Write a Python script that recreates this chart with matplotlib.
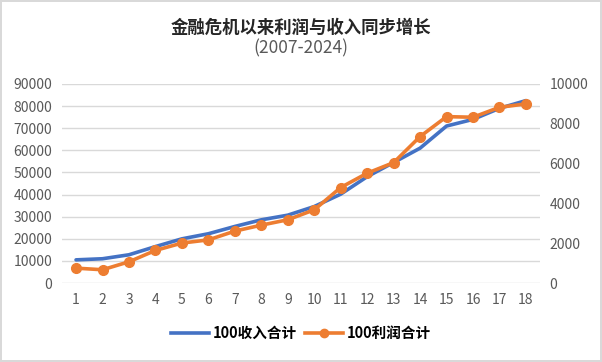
#
# Revenue and profit growth since the financial crisis
#

import matplotlib.pyplot as plt
from matplotlib.lines import Line2D

plt.rcParams['font.family'] = ['Noto Sans CJK SC', 'DejaVu Sans']

# Data
years = list(range(1, 19))
revenue = [10500, 11000, 12800, 16500, 20000, 22300, 25600, 28600, 30700,
           34600, 40200, 48100, 54500, 61000, 71000, 74000, 79000, 82500]
profit = [750, 670, 1070, 1640, 2010, 2170, 2610, 2910, 3180,
          3680, 4800, 5520, 6050, 7360, 8360, 8330, 8830, 9000]

title = "金融危机以来利润与收入同步增长"
subtitle = "(2007-2024)"
revenueLabel = "100收入合计"
profitLabel = "100利润合计"

blue = "#4472C4"
orange = "#ED7D31"
grey = "#595959"

fig = plt.figure(figsize=(6.02, 3.62), dpi=100)
fig.patch.set_edgecolor("#d9d9d9")
fig.patch.set_linewidth(1.5)

ax = fig.add_axes([0.103, 0.218, 0.794, 0.550])
ax2 = ax.twinx()

# Left axis: revenue
ax.plot(years, revenue, color=blue, linewidth=2.6, solid_capstyle="round", zorder=3)
ax.set_ylim(0, 90000)
ax.set_yticks(range(0, 90001, 10000))
ax.set_xlim(0.47, 18.53)
ax.set_xticks(years)
ax.grid(axis="y", color="#d9d9d9", linewidth=1)
ax.set_axisbelow(True)

# Right axis: profit
ax2.plot(years, profit, color=orange, linewidth=2.6, marker="o", markersize=7, zorder=3)
ax2.set_ylim(0, 10000)
ax2.set_yticks(range(0, 10001, 2000))

for a in (ax, ax2):
    for s in a.spines.values():
        s.set_visible(False)
    a.tick_params(length=0, labelsize=10, labelcolor=grey)
ax.tick_params(axis="y", pad=7)
ax.tick_params(axis="x", pad=7)
ax2.tick_params(axis="y", pad=7)

# Titles
fig.text(0.5, 0.922, title, ha="center", va="center", fontsize=12.5,
         fontweight="bold", color="#262626")
fig.text(0.5, 0.866, subtitle, ha="center", va="center", fontsize=12.5,
         color=grey)

# Legend
handles = [Line2D([], [], color=blue, linewidth=2.6),
           Line2D([], [], color=orange, linewidth=2.6, marker="o", markersize=6)]
fig.legend(handles, [revenueLabel, profitLabel], loc="center",
           bbox_to_anchor=(0.5, 0.08), ncol=2, frameon=False,
           prop={"size": 10.5, "weight": "bold"}, handlelength=2.6,
           columnspacing=0.5, handletextpad=0.3)

fig.savefig("out.png", dpi=100)
